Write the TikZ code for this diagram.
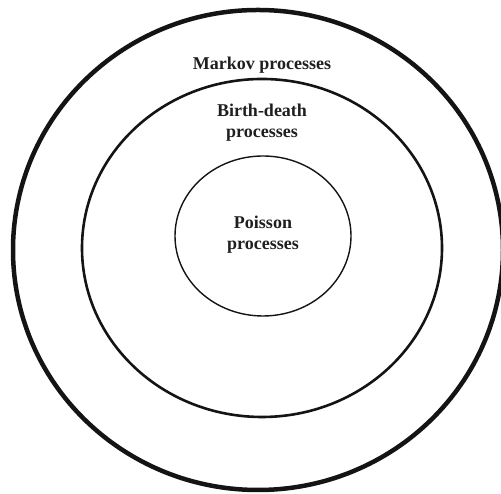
\documentclass[tikz,border=0pt]{standalone}
\usepackage{fontspec}
\setmainfont{Liberation Serif}
\usetikzlibrary{shapes.geometric}
\begin{document}
\begin{tikzpicture}[x=1pt,y=1pt,
  ring/.style={ellipse, draw=black!92, inner sep=0pt},
  lbl/.style={font=\bfseries\fontsize{18}{21}\selectfont, align=center, text=black!88, inner sep=0pt}]
\useasboundingbox (0,0) rectangle (501,494);
\clip (0,0) rectangle (501,494);
\node[ring, line width=4.5pt, minimum width=490pt, minimum height=480pt] (markov) at (258,244) {};
\node[ring, line width=2.6pt, minimum width=360pt, minimum height=338pt] (birthdeath) at (262,246) {};
\node[ring, line width=1.4pt, minimum width=176pt, minimum height=160pt] (poisson) at (263,258) {};
\node[lbl, anchor=base] (tmarkov) at (262,424) {Markov processes};
\node[lbl] (tbirth) at (262,371) {Birth-death\\processes};
\node[lbl] (tpoisson) at (263,259.5) {Poisson\\processes};
\end{tikzpicture}
\end{document}
